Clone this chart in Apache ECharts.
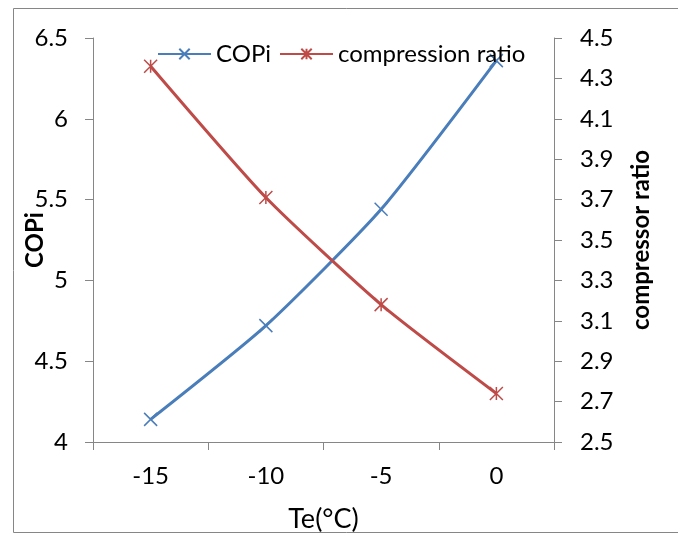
<!DOCTYPE html>
<html>
<head>
<meta charset="utf-8">
<script src="https://cdn.jsdelivr.net/npm/echarts@6/dist/echarts.min.js"></script>
<style>
html,body{margin:0;padding:0;background:#fff;}
#chart{width:678px;height:534px;}
</style>
</head>
<body>
<div id="chart"></div>
<script>
var categories = ['-15', '-10', '-5', '0'];
var copi = [4.14, 4.72, 5.44, 6.36];
var compressionRatio = [4.36, 3.71, 3.18, 2.74];
var leftTicks = {min: 4, max: 6.5, interval: 0.5};
var rightTicks = {min: 2.5, max: 4.5, interval: 0.2};

var FONT = 'Lato';
var axisGray = '#868686';
var blue = '#4A7EBB';
var red = '#BE4B48';
var xSym = 'path://M0,0L10,10M0,10L10,0';
var starSym = 'path://M0,0L10,10M0,10L10,0M5,0L5,10';

var chart = echarts.init(document.getElementById('chart'), null, {renderer: 'canvas'});
chart.setOption({
  animation: false,
  backgroundColor: '#fff',
  textStyle: {fontFamily: FONT},
  graphic: [{
    type: 'polyline',
    shape: {points: [[690, 8.5], [13.5, 8.5], [13.5, 532.5], [690, 532.5]]},
    style: {stroke: axisGray, lineWidth: 1, fill: null},
    silent: true,
    z: 100
  }],
  grid: {left: 93, right: 124, top: 38, bottom: 92, containLabel: false, outerBoundsMode: 'none'},
  legend: {
    left: 157, top: 42, padding: 0,
    itemWidth: 53, itemHeight: 13, itemGap: 8,
    textStyle: {fontFamily: FONT, fontSize: 24, color: '#000'},
    data: ['COPi', 'compression ratio']
  },
  xAxis: {
    type: 'category',
    data: categories,
    boundaryGap: true,
    name: 'Te(°C)',
    nameLocation: 'middle',
    nameGap: 64,
    nameMoveOverlap: false,
    nameTextStyle: {fontFamily: FONT, fontSize: 27, color: '#000'},
    axisLine: {lineStyle: {color: axisGray, width: 1}},
    axisTick: {show: true, inside: false, length: 8, alignWithLabel: false, lineStyle: {color: axisGray}},
    axisLabel: {fontFamily: FONT, fontSize: 24, color: '#000', margin: 22},
    splitLine: {show: false}
  },
  yAxis: [{
    type: 'value',
    min: leftTicks.min, max: leftTicks.max, interval: leftTicks.interval,
    position: 'left',
    name: 'COPi',
    nameLocation: 'middle',
    nameRotate: 90,
    nameGap: 46,
    nameMoveOverlap: false,
    nameTextStyle: {fontFamily: FONT, fontSize: 24, fontWeight: 'bold', color: '#000'},
    axisLine: {show: true, lineStyle: {color: axisGray, width: 1}},
    axisTick: {show: true, length: 8, lineStyle: {color: axisGray}},
    axisLabel: {fontFamily: FONT, fontSize: 24, color: '#000', margin: 25},
    splitLine: {show: false}
  }, {
    type: 'value',
    min: rightTicks.min, max: rightTicks.max, interval: rightTicks.interval,
    position: 'right',
    name: 'compressor ratio',
    nameLocation: 'middle',
    nameRotate: 90,
    nameGap: 75,
    nameMoveOverlap: false,
    nameTextStyle: {fontFamily: FONT, fontSize: 24, fontWeight: 'bold', color: '#000'},
    axisLine: {show: true, lineStyle: {color: axisGray, width: 1}},
    axisTick: {show: true, length: 8, lineStyle: {color: axisGray}},
    axisLabel: {fontFamily: FONT, fontSize: 24, color: '#000', margin: 26,
      formatter: function (v) { return v.toFixed(1); }},
    splitLine: {show: false}
  }],
  series: [{
    name: 'COPi',
    type: 'line',
    yAxisIndex: 0,
    data: copi,
    smooth: 0.2,
    symbol: xSym,
    symbolSize: 13,
    showAllSymbol: true,
    lineStyle: {color: blue, width: 3},
    itemStyle: {color: blue, borderColor: blue, borderWidth: 1.5}
  }, {
    name: 'compression ratio',
    type: 'line',
    yAxisIndex: 1,
    data: compressionRatio,
    smooth: 0.2,
    symbol: starSym,
    symbolSize: 13,
    showAllSymbol: true,
    lineStyle: {color: red, width: 3},
    itemStyle: {color: red, borderColor: red, borderWidth: 1.5}
  }]
});
</script>
</body>
</html>
